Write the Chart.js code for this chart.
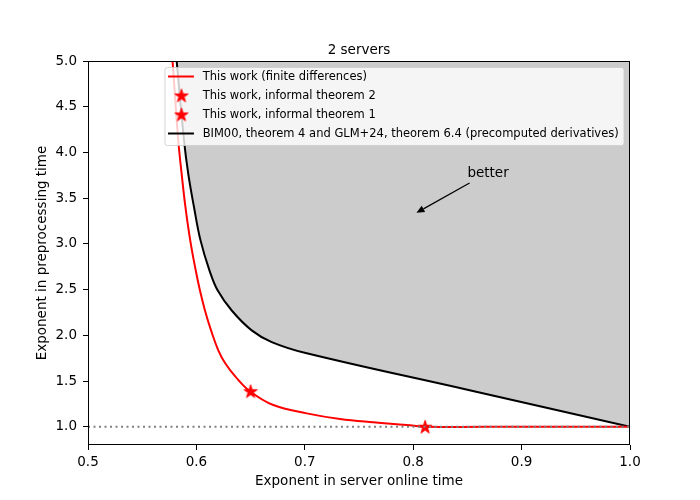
<!DOCTYPE html>
<html lang="en">
<head>
<meta charset="UTF-8">
<title>2 servers</title>
<script src="https://cdn.jsdelivr.net/npm/chart.js"></script>
<style>
    body { margin: 0; background: #fff; }
    #wrap { width: 700px; height: 500px; }
</style>
</head>
<body>
<div id="wrap"><canvas id="chart" width="700" height="500"></canvas></div>
<script>
    // tick labels
    const xTicks = [0.5, 0.6, 0.7, 0.8, 0.9, 1.0];
    const yTicks = [1.0, 1.5, 2.0, 2.5, 3.0, 3.5, 4.0, 4.5, 5.0];

    // series
    const seriesNames = [
        'This work (finite differences)',
        'This work, informal theorem 2',
        'This work, informal theorem 1',
        'BIM00, theorem 4 and GLM+24, theorem 6.4 (precomputed derivatives)'
    ];
    const finiteX = [0.578, 0.5833, 0.5864, 0.5899, 0.5943, 0.5994, 0.6033, 0.6079, 0.6135, 0.6202, 0.6266, 0.636, 0.6494, 0.6709, 0.7018, 0.7325, 0.7632, 0.794, 0.811, 0.9, 1.0];
    const finiteY = [5.0, 4.128, 3.765, 3.401, 3.038, 2.708, 2.489, 2.271, 2.054, 1.836, 1.694, 1.548, 1.388, 1.237, 1.146, 1.084, 1.048, 1.02, 1.0, 1.0, 1.0];
    const thm2X = [0.65];
    const thm2Y = [1.388];
    const thm1X = [0.811];
    const thm1Y = [1.0];
    const bimX = [0.5818, 0.5886, 0.5925, 0.5978, 0.6038, 0.6121, 0.6197, 0.6326, 0.651, 0.6695, 0.7018, 0.85, 1.0];
    const bimY = [5.0, 4.128, 3.765, 3.401, 3.038, 2.708, 2.489, 2.271, 2.054, 1.926, 1.803, 1.404, 1.0];
    const floorX = [0.5, 1.0];
    const floorY = [1.0, 1.0];

    // annotation
    const noteText = 'better';
    const notePos = { x: 0.85, y: 3.73 };
    const arrowFrom = { x: 0.852, y: 3.665 };
    const arrowTo = { x: 0.803, y: 3.34 };

    const pts = (xs, ys) => xs.map((x, i) => ({ x: x, y: ys[i] }));

    function makeStar(r) {
        const c = document.createElement('canvas');
        const s = Math.ceil(r * 2 + 2);
        c.width = s;
        c.height = s;
        const g = c.getContext('2d');
        g.translate(s / 2, s / 2 + r * 0.09);
        g.beginPath();
        for (let i = 0; i < 10; i++) {
            const rad = i % 2 ? r * 0.382 : r;
            const a = -Math.PI / 2 + i * Math.PI / 5;
            g.lineTo(rad * Math.cos(a), rad * Math.sin(a));
        }
        g.closePath();
        g.fillStyle = '#ff0000';
        g.fill();
        g.strokeStyle = '#ff0000';
        g.lineWidth = 1;
        g.stroke();
        return c;
    }
    const starImg = makeStar(7);

    const FONT = '"DejaVu Sans", sans-serif';
    Chart.defaults.font.family = FONT;
    Chart.defaults.font.size = 13.5;
    Chart.defaults.color = '#000';

    const extras = {
        id: 'extras',
        afterDatasetsDraw(chart) {
            const { ctx, chartArea: a, scales: { x, y } } = chart;
            ctx.save();
            // frame
            ctx.strokeStyle = '#000';
            ctx.lineWidth = 1;
            ctx.strokeRect(a.left + 0.5, a.top + 0.5, a.right - a.left - 1, a.bottom - a.top - 1);
            // title
            ctx.fillStyle = '#000';
            ctx.font = '13.5px ' + FONT;
            ctx.textAlign = 'center';
            ctx.textBaseline = 'alphabetic';
            ctx.fillText('2 servers', (a.left + a.right) / 2, a.top - 7.5);
            // annotation
            ctx.textAlign = 'left';
            ctx.fillText(noteText, x.getPixelForValue(notePos.x), y.getPixelForValue(notePos.y));
            const x1 = x.getPixelForValue(arrowFrom.x), y1 = y.getPixelForValue(arrowFrom.y);
            const x2 = x.getPixelForValue(arrowTo.x), y2 = y.getPixelForValue(arrowTo.y);
            const ang = Math.atan2(y2 - y1, x2 - x1);
            const hl = 8, hw = 3.5;
            ctx.beginPath();
            ctx.moveTo(x1, y1);
            ctx.lineTo(x2 - hl * Math.cos(ang), y2 - hl * Math.sin(ang));
            ctx.lineWidth = 1.2;
            ctx.stroke();
            ctx.beginPath();
            ctx.moveTo(x2, y2);
            ctx.lineTo(x2 - hl * Math.cos(ang) + hw * Math.sin(ang), y2 - hl * Math.sin(ang) - hw * Math.cos(ang));
            ctx.lineTo(x2 - hl * Math.cos(ang) - hw * Math.sin(ang), y2 - hl * Math.sin(ang) + hw * Math.cos(ang));
            ctx.closePath();
            ctx.fill();
            ctx.restore();
        },
        afterDraw(chart) {
            const { ctx, chartArea: a } = chart;
            const items = chart.data.datasets.filter(d => d.label);
            ctx.save();
            ctx.font = '11.5px ' + FONT;
            const textW = Math.max(...items.map(d => ctx.measureText(d.label).width));
            const w = 38 + textW + 5, h = 78;
            const x0 = a.right - 6 - w, y0 = a.top + 6.5;
            ctx.beginPath();
            ctx.roundRect(x0, y0, w, h, 2.5);
            ctx.fillStyle = 'rgba(255,255,255,0.8)';
            ctx.fill();
            ctx.strokeStyle = 'rgba(204,204,204,0.8)';
            ctx.lineWidth = 1;
            ctx.stroke();
            ctx.textAlign = 'left';
            ctx.textBaseline = 'middle';
            items.forEach((d, i) => {
                const cy = y0 + 9 + i * 19;
                if (d.showLine) {
                    ctx.beginPath();
                    ctx.moveTo(x0 + 3, cy);
                    ctx.lineTo(x0 + 29, cy);
                    ctx.strokeStyle = d.borderColor;
                    ctx.lineWidth = 2;
                    ctx.stroke();
                } else {
                    ctx.drawImage(starImg, x0 + 16.5 - starImg.width / 2, cy - starImg.height / 2);
                }
                ctx.fillStyle = '#000';
                ctx.fillText(d.label, x0 + 37.7, cy + 0.5);
            });
            ctx.restore();
        }
    };

    const lineBase = { showLine: true, pointRadius: 0, borderWidth: 2, tension: 0.4 };
    const starBase = { showLine: false, pointStyle: starImg, pointRadius: 7, backgroundColor: '#ff0000', borderColor: '#ff0000' };

    new Chart(document.getElementById('chart').getContext('2d'), {
        type: 'scatter',
        data: {
            datasets: [
                Object.assign({ label: seriesNames[0], data: pts(finiteX, finiteY), borderColor: '#ff0000', order: 2 }, lineBase),
                Object.assign({ label: seriesNames[1], data: pts(thm2X, thm2Y), order: 1 }, starBase),
                Object.assign({ label: seriesNames[2], data: pts(thm1X, thm1Y), order: 1 }, starBase),
                Object.assign({ label: seriesNames[3], data: pts(bimX, bimY), borderColor: '#000000', fill: 'end', backgroundColor: '#cccccc', order: 3 }, lineBase),
                { data: pts(floorX, floorY), showLine: true, pointRadius: 0, borderWidth: 2, borderColor: '#808080', borderDash: [2, 3.5], order: 0 }
            ]
        },
        options: {
            responsive: false,
            animation: false,
            events: [],
            layout: { padding: { left: 34, right: 70, top: 61, bottom: 10 } },
            plugins: {
                legend: { display: false },
                title: { display: false },
                tooltip: { enabled: false }
            },
            scales: {
                x: {
                    type: 'linear',
                    min: 0.5,
                    max: 1.0,
                    afterBuildTicks: s => { s.ticks = xTicks.map(v => ({ value: v })); },
                    afterFit: s => { s.height = 45; },
                    ticks: { padding: 4, maxRotation: 0, callback: v => v.toFixed(1) },
                    grid: { drawOnChartArea: false, drawTicks: true, tickLength: 5, color: '#000' },
                    border: { display: false },
                    title: { display: true, text: 'Exponent in server online time', padding: 0 }
                },
                y: {
                    type: 'linear',
                    min: 0.8,
                    max: 5.0,
                    afterBuildTicks: s => { s.ticks = yTicks.map(v => ({ value: v })); },
                    afterFit: s => { s.width = 54; },
                    ticks: { padding: 6, callback: v => v.toFixed(1) },
                    grid: { drawOnChartArea: false, drawTicks: true, tickLength: 5, color: '#000' },
                    border: { display: false },
                    title: { display: true, text: 'Exponent in preprocessing time', padding: 0 }
                }
            }
        },
        plugins: [extras]
    });
</script>
</body>
</html>
